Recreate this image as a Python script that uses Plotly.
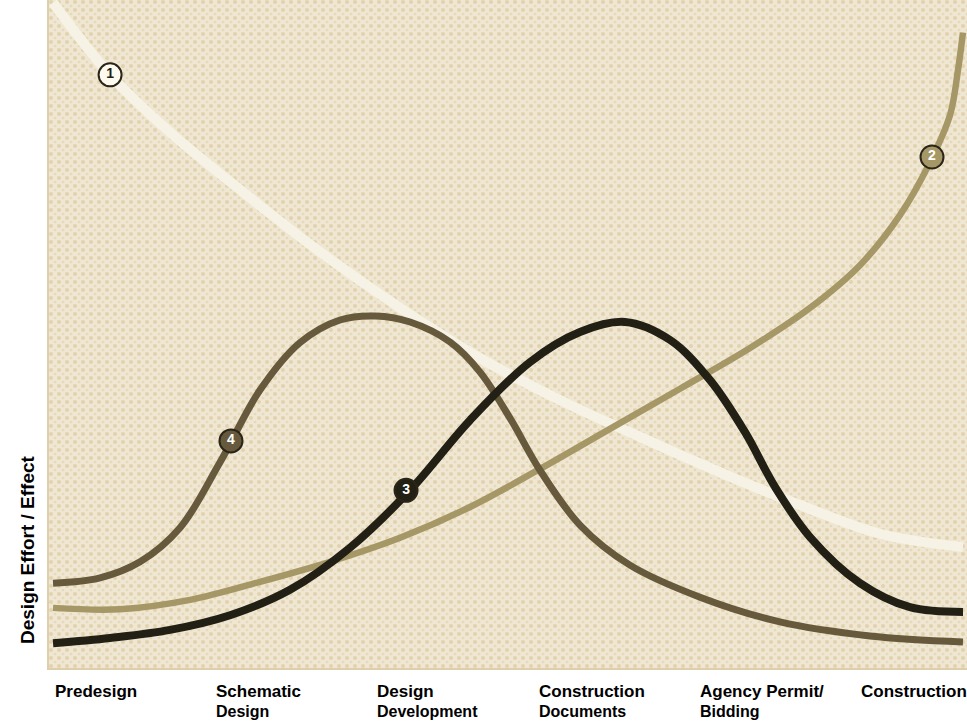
import base64
import plotly.graph_objects as go

# ---- data (x: project phase position, 0 = Predesign ... 5 = Construction; y: relative effort/effect) ----
stage_line1 = ["Predesign", "Schematic", "Design", "Construction", "Agency Permit/", "Construction"]
stage_line2 = ["", "Design", "Development", "Documents", "Bidding", ""]
stage_pos = [0, 1, 2, 3, 4, 5]

c1_x = [0.0, 0.354, 0.726, 1.160, 1.656, 2.153, 2.649, 3.145, 3.641, 4.138, 4.634, 5.130, 5.645]
c1_y = [99.6, 88.8, 80.2, 71.6, 62.3, 53.9, 46.4, 40.1, 34.6, 29.3, 24.4, 20.1, 18.1]

c2_x = [0.0, 0.416, 0.850, 1.284, 1.718, 2.153, 2.587, 3.021, 3.455, 3.890, 4.324, 4.696, 5.006, 5.254, 5.440, 5.565, 5.614, 5.645]
c2_y = [9.0, 8.8, 10.2, 12.9, 15.9, 19.5, 24.1, 29.8, 35.8, 41.8, 47.9, 53.9, 60.3, 67.8, 75.7, 82.8, 89.5, 95.1]

c3_x = [0.0, 0.354, 0.726, 1.098, 1.470, 1.842, 2.214, 2.587, 2.959, 3.269, 3.548, 3.828, 4.076, 4.293, 4.479, 4.696, 5.006, 5.316, 5.645]
c3_y = [3.7, 4.5, 5.7, 7.9, 11.7, 18.0, 26.6, 37.1, 45.8, 50.3, 51.8, 49.1, 43.1, 35.3, 27.1, 19.6, 12.7, 9.1, 8.4]

c4_x = [0.0, 0.292, 0.540, 0.788, 1.036, 1.284, 1.532, 1.780, 1.998, 2.215, 2.463, 2.649, 2.835, 3.021, 3.269, 3.579, 4.014, 4.510, 5.068, 5.645]
c4_y = [12.7, 13.5, 15.9, 21.0, 30.8, 41.6, 48.7, 52.1, 52.7, 51.8, 48.8, 44.3, 37.4, 29.6, 21.4, 15.4, 10.6, 6.9, 4.8, 3.9]

badge_labels = ["1", "2", "3", "4"]
badge_x = [0.354, 5.453, 2.190, 1.104]
badge_y = [88.8, 76.5, 26.6, 34.0]

# ---- styles ----
curve_colors = ["#f6f3e6", "#a69766", "#221f14", "#675a3c"]
badge_fill = ["#fdfbf0", "#a69766", "#221f14", "#675a3c"]
badge_text = ["#221f14", "#ffffff", "#ffffff", "#ffffff"]

W, H = 967, 722
ML, MR, MT, MB = 49, 0, 0, 54
PW, PH = W - ML - MR, H - MT - MB

# halftone-like dotted background texture (decoration only)
svg = f'''<svg xmlns="http://www.w3.org/2000/svg" width="{PW}" height="{PH}" viewBox="0 0 {PW} {PH}" preserveAspectRatio="none">
<defs><pattern id="p" width="8" height="8" patternUnits="userSpaceOnUse">
<rect width="8" height="8" fill="#efe7d3"/>
<circle cx="2" cy="2" r="2.0" fill="#e2d3ad"/>
<circle cx="6" cy="6" r="1.3" fill="#e6d9b7"/>
</pattern></defs>
<rect width="{PW}" height="{PH}" fill="url(#p)"/></svg>'''
bg_src = "data:image/svg+xml;base64," + base64.b64encode(svg.encode()).decode()

fig = go.Figure()
series = [(c1_x, c1_y, 10, curve_colors[0]),
          (c2_x, c2_y, 6.5, curve_colors[1]),
          (c4_x, c4_y, 7, curve_colors[3]),
          (c3_x, c3_y, 8, curve_colors[2])]
for xs, ys, w, col in series:
    fig.add_trace(go.Scatter(x=xs, y=ys, mode="lines",
                             line=dict(color=col, width=w, shape="spline", smoothing=1.0),
                             hoverinfo="skip", showlegend=False, cliponaxis=True))

fig.add_trace(go.Scatter(
    x=badge_x, y=badge_y, mode="markers+text",
    text=[f"<b>{t}</b>" for t in badge_labels],
    textposition="middle center",
    textfont=dict(family="Liberation Sans, Arial, sans-serif", size=14, color=badge_text),
    marker=dict(symbol="circle", size=23, color=badge_fill,
                line=dict(color="#2a2518", width=2)),
    hoverinfo="skip", showlegend=False, cliponaxis=False))

label_font = dict(family="Liberation Sans, Arial, sans-serif", size=17, color="#000000")
label_font2 = dict(family="Liberation Sans, Arial, sans-serif", size=16, color="#000000")
for pos, l1, l2 in zip(stage_pos, stage_line1, stage_line2):
    fig.add_annotation(x=pos, y=(PH - 691) / PH, xref="x", yref="paper", text=f"<b>{l1}</b>",
                       showarrow=False, xanchor="left", yanchor="middle", align="left",
                       font=label_font)
    if l2:
        fig.add_annotation(x=pos, y=(PH - 722) / PH, xref="x", yref="paper", text=f"<b>{l2}</b>",
                           showarrow=False, xanchor="left", yanchor="bottom", align="left",
                           font=label_font2)

fig.add_annotation(x=-22 / PW, y=(PH - 550) / PH, xref="paper", yref="paper",
                   text="<b>Design Effort / Effect</b>", textangle=-90, showarrow=False,
                   xanchor="center", yanchor="middle",
                   font=dict(family="Liberation Sans, Arial, sans-serif", size=19, color="#000000"))

fig.update_layout(
    width=W, height=H, margin=dict(l=ML, r=MR, t=MT, b=MB),
    paper_bgcolor="#ffffff", plot_bgcolor="#ebe1c8",
    images=[dict(source=bg_src, xref="paper", yref="paper", x=0, y=1, sizex=1, sizey=1,
                 sizing="stretch", layer="below", xanchor="left", yanchor="top")],
    xaxis=dict(range=[-0.025, 5.67], showgrid=False, zeroline=False, showticklabels=False,
               ticks="", showline=True, linecolor="#dccfa9", linewidth=2, mirror=False),
    yaxis=dict(range=[0, 100], showgrid=False, zeroline=False, showticklabels=False,
               ticks="", showline=True, linecolor="#dccfa9", linewidth=2),
)

fig.write_html("out.html")
